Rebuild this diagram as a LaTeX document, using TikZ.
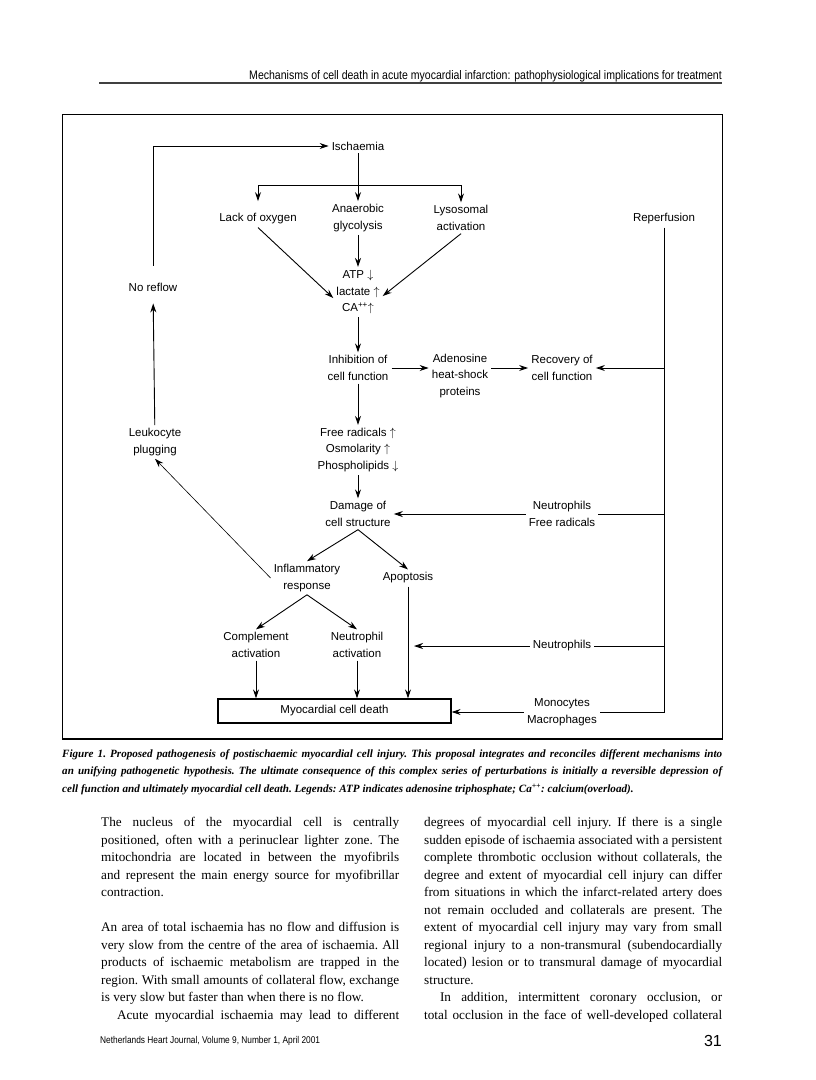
\documentclass[tikz,border=0pt]{standalone}
\usepackage{fontspec}
\setmainfont{Liberation Serif}
\newfontfamily\diagfont{Liberation Sans}
\newfontfamily\headfont[FakeStretch=0.85]{Liberation Sans}
\usetikzlibrary{arrows.meta,positioning,calc}
\newlength{\colw}\setlength{\colw}{298pt}
\newcommand{\jline}[1]{\makebox[\colw][s]{\spaceskip=0pt\xspaceskip=0pt\frenchspacing #1}}
\newcommand{\capline}[1]{\makebox[660pt][s]{\spaceskip=0pt\xspaceskip=0pt\frenchspacing #1}}

\begin{document}
\begin{tikzpicture}[
  x=1pt, y=-1pt,
  box/.style ={font=\diagfont\fontsize{11.5}{16.5}\selectfont, align=center, inner sep=3pt},
  death_box/.style={box, draw=black, line width=1.2pt, minimum width=233pt, minimum height=24pt},
  arr/.style ={-{Stealth[length=9pt, width=6pt]}, line width=0.9pt, black},
  thinarr/.style={-{Stealth[length=9pt, width=6pt]}, line width=0.6pt, black},
  body/.style={font=\fontsize{13.2}{17.5}\selectfont\frenchspacing, text width=\colw, align=flush left, inner sep=0pt, anchor=north west},
  caption_text/.style ={font=\bfseries\itshape\fontsize{11.1}{17.5}\selectfont\frenchspacing, text width=660pt, align=flush left, inner sep=0pt, anchor=north west},
]
  \useasboundingbox (0,0) rectangle (816,1080);
  \fill[white] (0,0) rectangle (816,1080);

  \node[anchor=base east, inner sep=0pt, font=\headfont\fontsize{12.4}{14}\selectfont] (head) at (722,79)
    {Mechanisms of cell death in acute myocardial infarction: pathophysiological implications for treatment};
  \draw[line width=2pt, black!75] (99,83) -- (722,83);

  \draw[line width=0.8pt] (62,114) rectangle (722,739);
  \draw[line width=2pt] (62,739) -- (722,739);

  \node[box]       (isch)     at (358,146) {Ischaemia};
  \coordinate      (fork)     at (358,185);
  \node[box]       (lack)     at (258,219) {Lack of oxygen};
  \node[box]       (anaer)    at (358,218) {Anaerobic\\glycolysis};
  \node[box]       (lyso)     at (461,218) {Lysosomal\\activation};
  \node[box]       (reperf)   at (664,219) {Reperfusion};
  \node[box]       (noreflow) at (153,287) {No reflow};
  \node[box]       (atp)      at (358,292) {ATP $\downarrow$\\lactate $\uparrow$\\CA\textsuperscript{++}$\uparrow$};
  \node[box]       (inhib)    at (358,368) {Inhibition of\\cell function};
  \node[box]       (adeno)    at (460,376) {Adenosine\\heat-shock\\proteins};
  \node[box]       (recov)    at (562,368) {Recovery of\\cell function};
  \node[box]       (leuko)    at (155,442) {Leukocyte\\plugging};
  \node[box]       (radic)    at (358,450) {Free radicals $\uparrow$\\Osmolarity $\uparrow$\\Phospholipids $\downarrow$};
  \node[box]       (damage)   at (358,514) {Damage of\\cell structure};
  \node[box]       (neutfr)   at (562,514) {Neutrophils\\Free radicals};
  \node[box]       (inflam)   at (307,578) {Inflammatory\\response};
  \node[box]       (apopt)    at (408,578) {Apoptosis};
  \node[box]       (compl)    at (256,645) {Complement\\activation};
  \node[box]       (neutact)  at (357,645) {Neutrophil\\activation};
  \node[box]       (neutro)   at (562,646) {Neutrophils};
  \node[death_box] (death)    at (334.5,711) {Myocardial cell death};
  \node[box]       (monoc)    at (562,712) {Monocytes\\Macrophages};

  \draw[arr] (isch) -- (anaer);
  \draw[arr] (fork) -| (lack.north |- anaer.north);
  \draw[arr] (fork) -| (lyso.north);
  \draw[arr] (anaer) -- (atp);
  \draw[arr] (lack.south) -- ([yshift=-6pt]atp.west);
  \draw[arr] (lyso.south) -- ([yshift=-4pt]atp.east);
  \draw[arr] (atp) -- (inhib);
  \draw[arr] (inhib.east) -- (inhib.east -| adeno.west);
  \draw[arr] (adeno.east |- recov.west) -- (recov.west);
  \draw (reperf) |- (monoc.east);
  \draw[arr] (reperf.south |- recov.east) -- (recov.east);
  \draw (neutfr.east) -- (neutfr.east -| reperf.south);
  \draw (neutro.east) -- (neutro.east -| reperf.south);
  \draw[arr] (neutfr.west) -- (damage.east);
  \draw[arr] (neutro.west) -- ($(apopt.south |- neutro.west)+(6,0)$);
  \draw[arr] (monoc.west) -- (monoc.west -| death.east);
  \draw[arr] (inhib) -- (radic);
  \draw[arr] (radic) -- (damage);
  \draw[arr] (damage.south) -- (inflam.north);
  \draw[arr] (damage.south) -- (apopt.north);
  \draw[arr] (inflam.south) -- (compl.north);
  \draw[arr] (inflam.south) -- (neutact.north);
  \draw[arr] (apopt) -- (apopt |- death.north);
  \draw[arr] (compl) -- (compl |- death.north);
  \draw[arr] (neutact) -- (neutact |- death.north);
  \draw[thinarr] (inflam.west) -- (leuko.south);
  \draw[arr, shorten >=9pt] (leuko) -- (noreflow);
  \draw[arr, shorten <=14pt] (noreflow) |- (isch);

  \node[caption_text] (caption) at (62,749) {%
    \capline{Figure 1. Proposed pathogenesis of postischaemic myocardial cell injury. This proposal integrates and reconciles different mechanisms into}\\
    \capline{an unifying pathogenetic hypothesis. The ultimate consequence of this complex series of perturbations is initially a reversible depression of}\\
    cell function and ultimately myocardial cell death. Legends: ATP indicates adenosine triphosphate; Ca\textsuperscript{++}: calcium(overload).};

  \node[body] (colL) at (101,817) {%
    \jline{The nucleus of the myocardial cell is centrally}\\
    \jline{positioned, often with a perinuclear lighter zone. The}\\
    \jline{mitochondria are located in between the myofibrils}\\
    \jline{and represent the main energy source for myofibrillar}\\
    contraction.\\[17.5pt]
    \jline{An area of total ischaemia has no flow and diffusion is}\\
    \jline{very slow from the centre of the area of ischaemia. All}\\
    \jline{products of ischaemic metabolism are trapped in the}\\
    \jline{region. With small amounts of collateral flow, exchange}\\
    is very slow but faster than when there is no flow.\\
    \jline{\hspace*{1.2em}Acute myocardial ischaemia may lead to different}};

  \node[body] (colR) at (424,817) {%
    \jline{degrees of myocardial cell injury. If there is a single}\\
    \jline{sudden episode of ischaemia associated with a persistent}\\
    \jline{complete thrombotic occlusion without collaterals, the}\\
    \jline{degree and extent of myocardial cell injury can differ}\\
    \jline{from situations in which the infarct-related artery does}\\
    \jline{not remain occluded and collaterals are present. The}\\
    \jline{extent of myocardial cell injury may vary from small}\\
    \jline{regional injury to a non-transmural (subendocardially}\\
    \jline{located) lesion or to transmural damage of myocardial}\\
    structure.\\
    \jline{\hspace*{1.2em}In addition, intermittent coronary occlusion, or}\\
    \jline{total occlusion in the face of well-developed collateral}};

  \node[anchor=base west, inner sep=0pt, font=\headfont\fontsize{9.8}{11}\selectfont] (foot) at (100,1043)
    {Netherlands Heart Journal, Volume 9, Number 1, April 2001};
  \node[anchor=base east, inner sep=0pt, font=\diagfont\fontsize{16}{18}\selectfont] (pageno) at (722,1046) {31};
\end{tikzpicture}
\end{document}
